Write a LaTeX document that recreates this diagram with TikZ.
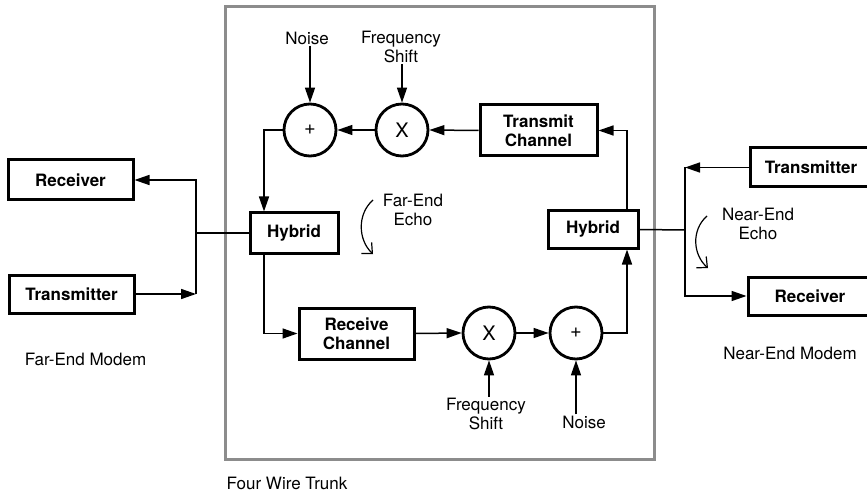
\documentclass[tikz,border=0pt]{standalone}
\usepackage{fontspec}
\setmainfont{TeX Gyre Heros}
\usetikzlibrary{arrows.meta,positioning}
\definecolor{trunkgrey}{HTML}{8C8C8C}

\newcommand\labelfont{\fontsize{17}{19}\selectfont}

\tikzset{
  block/.style={draw,line width=3pt,font=\labelfont\bfseries,align=center,inner sep=0pt},
  mixer/.style={draw,circle,line width=2.8pt,minimum size=52pt,inner sep=0pt,font=\fontsize{20}{22}\selectfont},
  plain/.style={align=center,inner sep=1pt,font=\labelfont},
  sig/.style={line width=1.5pt,-{Triangle[length=15pt,width=10pt]}},
  wire/.style={line width=1.5pt},
  echo/.style={line width=1.2pt,-{Straight Barb[length=8pt,width=15pt]}}
}

\begin{document}
\begin{tikzpicture}[x=1pt,y=-1pt]
    \path[use as bounding box] (0,0) rectangle (867,497);

    % four wire trunk
    \draw[trunkgrey,line width=3pt] (225,7) rectangle (654,459);
    \node[plain] (trunk) at (287,483) {Four Wire Trunk};

    % far-end modem
    \node[block,minimum width=125pt,minimum height=40pt] (rxL) at (70.5,180) {Receiver};
    \node[block,minimum width=125pt,minimum height=38pt] (txL) at (71.5,294) {Transmitter};
    \node[plain] (farmodem) at (85.5,359) {Far-End Modem};
    \coordinate (jL) at (196,233);

    % near-end modem
    \node[block,minimum width=122pt,minimum height=39pt] (txR) at (811,167.5) {Transmitter};
    \node[block,minimum width=124pt,minimum height=38pt] (rxR) at (810,296) {Receiver};
    \node[plain] (nearmodem) at (790,353) {Near-End Modem};
    \coordinate (jR) at (685,230);

    % hybrids and channels
    \node[block,minimum width=88pt,minimum height=40pt] (hybL) at (294,233) {Hybrid};
    \node[block,minimum width=90pt,minimum height=37pt] (hybR) at (593,229.5) {Hybrid};
    \node[block,minimum width=117pt,minimum height=51pt] (txch) at (538.5,130.5) {Transmit\\Channel};
    \node[block,minimum width=115pt,minimum height=51pt] (rxch) at (356.5,333.5) {Receive\\Channel};

    % adders and frequency shifters
    \node[mixer] (addT) at (310,130) {+};
    \node[mixer] (mulT) at (402,130) {X};
    \node[mixer] (mulB) at (489,333) {X};
    \node[mixer] (addB) at (576,333) {+};

    \node[plain] (noiseT) at (307,38) {Noise};
    \node[plain] (freqT) at (401,47) {Frequency\\Shift};
    \node[plain] (freqB) at (486,414) {Frequency\\Shift};
    \node[plain] (noiseB) at (584,422) {Noise};

    % modem side wiring
    \draw[wire] (hybL.west) -- (jL);
    \draw[sig] (txL.east) -- (jL |- txL.east);
    \draw[sig] (jL |- txL.east) |- (rxL.east);
    \draw[wire] (hybR.east) -- (jR);
    \draw[sig] (txR.west) -- (jR |- txR.west);
    \draw[sig] (jR |- txR.west) |- (rxR.west);

    % upper path
    \draw[sig] ([xshift=34pt]hybR.north) |- (txch.east);
    \draw[sig] (txch.west) -- (mulT.east);
    \draw[sig] (mulT.west) -- (addT.east);
    \draw[sig] (addT.west) -| ([xshift=-30pt]hybL.north);
    \draw[sig] (noiseT.south -| addT) -- (addT.north);
    \draw[sig] (freqT.south -| mulT) -- (mulT.north);

    % lower path
    \draw[sig] ([xshift=-30pt]hybL.south) |- (rxch.west);
    \draw[sig] (rxch.east) -- (mulB.west);
    \draw[sig] (mulB.east) -- (addB.west);
    \draw[sig] (addB.east) -| ([xshift=34pt]hybR.south);
    \draw[sig] (freqB.north -| mulB) -- (mulB.south);
    \draw[sig] (noiseB.north -| addB) -- (addB.south);

    % echoes
    \node[plain] (farecho) at (413,210) {Far-End\\Echo};
    \coordinate (feA) at (373,200);
    \coordinate (feB) at (373,254);
    \draw[echo] (feA) .. controls (357,214) and (358,240) .. (feB);
    \node[plain] (nearecho) at (758,224) {Near-End\\Echo};
    \coordinate (neA) at (707,216);
    \coordinate (neB) at (708,268);
    \draw[echo] (neA) .. controls (691,230) and (693,255) .. (neB);
  \end{tikzpicture}
\end{document}
